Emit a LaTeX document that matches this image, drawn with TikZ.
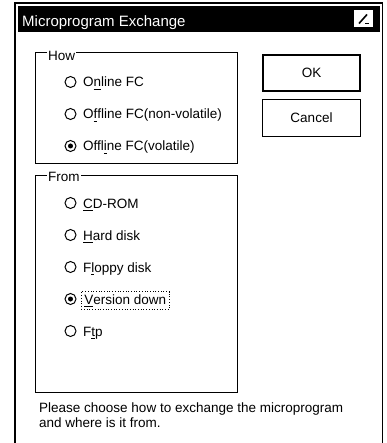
\documentclass[tikz,border=0pt]{standalone}
\usepackage{fontspec}
\setmainfont{Liberation Sans}
\newcommand{\acc}[1]{\setbox0\hbox{#1}\rlap{\rule[-2.6pt]{\wd0}{0.9pt}}\box0}
\begin{document}
\begin{tikzpicture}[x=1pt,y=-1pt,
  font=\fontsize{13.5}{16}\selectfont,
  radio/.style={circle,draw,line width=1pt,minimum size=11pt,inner sep=0pt},
  dot/.style={circle,fill,minimum size=5pt,inner sep=0pt},
  lbl/.style={anchor=base west,inner sep=0pt},
  grp/.style={draw,line width=0.8pt},
  grplbl/.style={anchor=base west,fill=white,inner xsep=1pt,inner ysep=1pt},
  btn/.style={draw,inner sep=0pt,minimum width=98pt,minimum height=37pt,line width=1pt},
  frame/.style={line width=1.5pt}]
\useasboundingbox (0,0) rectangle (386,443);
% window frame
\draw[frame] (15,443) -- (15,3) -- (382.5,3) -- (382.5,443);
% title bar
\fill (18,6) rectangle (380,32);
\node[anchor=base west,inner sep=0pt,text=white,font=\fontsize{15}{18}\selectfont] (title) at (22,27) {Microprogram Exchange};
\node[fill=white,minimum width=19pt,minimum height=17pt,inner sep=0pt] (icon) at (363.5,18.5) {};
\draw[line width=1.6pt] (359,23.5) -- (367,14.5);
\draw[line width=1.4pt] (365,23.5) -- (368.5,23.5);
% How group
\draw[grp] (35,52) rectangle (237,163);
\node[grplbl] (how) at (47,60.5) {How};
\node[radio] (r1) at (70.5,82) {};
\node[lbl] (t1) at (83,87) {O\acc{n}line FC};
\node[radio] (r2) at (70.5,114) {};
\node[lbl] (t2) at (83,119) {O\acc{f}fline FC(non-volatile)};
\node[radio] (r3) at (70.5,146) {};
\node[dot] at (r3) {};
\node[lbl] (t3) at (83,151) {Offl\acc{i}ne FC(volatile)};
% From group
\draw[grp] (35,175) rectangle (237,392);
\node[grplbl] (from) at (47,181.5) {From};
\node[radio] (s1) at (70.5,203) {};
\node[lbl] (u1) at (83,208) {\acc{C}D-ROM};
\node[radio] (s2) at (70.5,235) {};
\node[lbl] (u2) at (83,240) {\acc{H}ard disk};
\node[radio] (s3) at (70.5,267) {};
\node[lbl] (u3) at (83,272) {F\acc{l}oppy disk};
\node[radio] (s4) at (70.5,299) {};
\node[dot] at (s4) {};
\node[anchor=base west,draw,dotted,line width=0.7pt,inner xsep=2pt,inner ysep=2.5pt,text height=10pt,text depth=2.5pt,minimum width=88pt] (u4) at (81,304) {\acc{V}ersion down};
\node[radio] (s5) at (70.5,331) {};
\node[lbl] (u5) at (83,336) {F\acc{t}p};
% buttons
\node[btn,line width=2pt,minimum width=97pt,minimum height=36pt] (ok) at (311.5,73) {OK};
\node[btn] (cancel) at (311.5,118) {Cancel};
% message
\node[lbl] (m1) at (39,412.5) {Please choose how to exchange the microprogram};
\node[lbl] (m2) at (39,427.5) {and where is it from.};
\end{tikzpicture}
\end{document}
